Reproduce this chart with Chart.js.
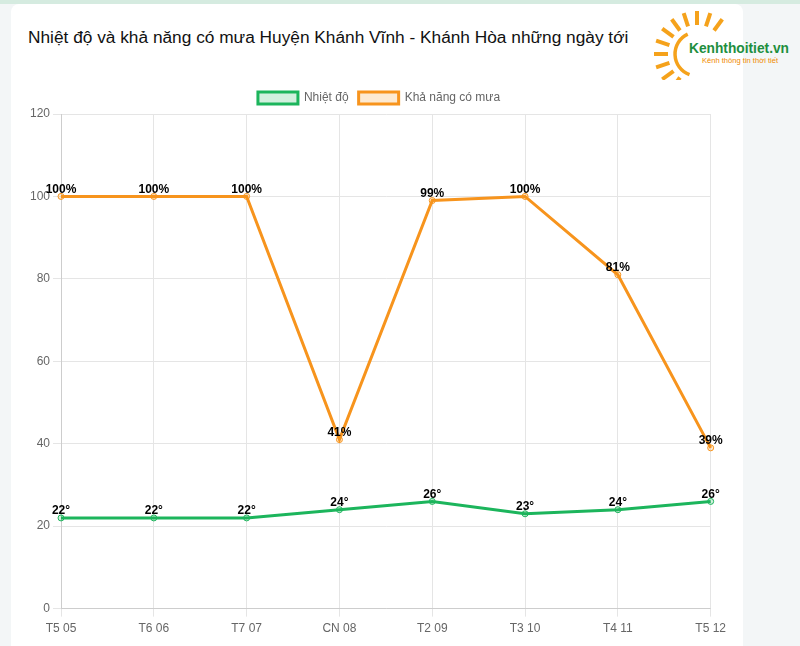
<!DOCTYPE html>
<html>
<head>
<meta charset="utf-8">
<script src="https://cdn.jsdelivr.net/npm/chart.js@4.4.1/dist/chart.umd.min.js"></script>
<style>
  html, body { margin: 0; padding: 0; }
  body { width: 800px; height: 646px; background: #f3f6f7; position: relative; overflow: hidden; font-family: "Liberation Sans", Arial, sans-serif; }
  .topbar { position: absolute; left: 0; top: 0; width: 800px; height: 4px; background: #d5ebe0; }
  .card { position: absolute; left: 11px; top: 4px; width: 732px; height: 660px; background: #fff; border-radius: 8px; }
  .title { position: absolute; left: 28px; top: 27px; font-size: 17.3px; color: #111; white-space: nowrap; }
  .logo { position: absolute; left: 645px; top: 0; width: 155px; height: 80px; }
  .chart-box { position: absolute; left: 27px; top: 82px; width: 704px; height: 559px; }
</style>
</head>
<body>
<div class="topbar"></div>
<div class="card"></div>
<div class="title">Nhiệt độ và khả năng có mưa Huyện Khánh Vĩnh - Khánh Hòa những ngày tới</div>
<svg class="logo" width="155" height="80" viewBox="0 0 155 80">
  <path d="M 42.7 34.1 A 22 22 0 0 0 44.5 74.7" stroke="#f5a21b" stroke-width="3.5" fill="none"/>
  <g id="sun" stroke="#f5a21b" fill="none" stroke-linecap="butt"></g>
  <text x="44" y="53" font-family="Liberation Sans, Arial" font-weight="bold" font-size="14" fill="#1e8f3e" textLength="100" lengthAdjust="spacingAndGlyphs">Kenhthoitiet.vn</text>
  <text x="57" y="63" font-family="Liberation Sans, Arial" font-size="7" fill="#ef8a00" textLength="76" lengthAdjust="spacingAndGlyphs">Kênh thông tin thời tiết</text>
</svg>
<div class="chart-box"><canvas id="chart"></canvas></div>
<script>
const days = ["T5 05", "T6 06", "T7 07", "CN 08", "T2 09", "T3 10", "T4 11", "T5 12"];
const temperature = [22, 22, 22, 24, 26, 23, 24, 26];
const rainChance = [100, 100, 100, 41, 99, 100, 81, 39];
const yTicks = [0, 20, 40, 60, 80, 100, 120];

const labelSuffix = ["°", "%"];

// logo sun rays on the left side
(function () {
  const g = document.getElementById("sun");
  const ns = "http://www.w3.org/2000/svg";
  const cx = 52, cy = 54;
  const pt = (deg, r) => {
    const a = deg * Math.PI / 180;
    return [cx - r * Math.sin(a), cy - r * Math.cos(a)];
  };
  [0, 18, 36, 54, 72, 90, 108, 126, 144, 162, -18, -36].forEach(deg => {
    const a = pt(deg, 29), b = pt(deg, 43);
    const line = document.createElementNS(ns, "line");
    line.setAttribute("x1", a[0]);
    line.setAttribute("y1", a[1]);
    line.setAttribute("x2", b[0]);
    line.setAttribute("y2", b[1]);
    line.setAttribute("stroke-width", "4");
    g.appendChild(line);
  });
})();

// draws the value above each point
const pointLabels = {
  id: "pointLabels",
  afterDatasetsDraw(chart) {
    const ctx = chart.ctx;
    ctx.save();
    ctx.font = "bold 12px 'Liberation Sans', Arial, sans-serif";
    ctx.fillStyle = "#000";
    ctx.textAlign = "center";
    ctx.textBaseline = "middle";
    chart.data.datasets.forEach((ds, i) => {
      chart.getDatasetMeta(i).data.forEach((pt, j) => {
        ctx.fillText(ds.data[j] + labelSuffix[i], pt.x, pt.y - 7);
      });
    });
    ctx.restore();
  }
};

Chart.defaults.font.family = "'Liberation Sans', Arial, sans-serif";
Chart.defaults.font.size = 12;
Chart.defaults.color = "#666";

new Chart(document.getElementById("chart"), {
  type: "line",
  data: {
    labels: days,
    datasets: [
      {
        label: "Nhiệt độ",
        data: temperature,
        borderColor: "#1cb55c",
        backgroundColor: "rgba(28,181,92,0.2)",
        borderWidth: 3,
        pointRadius: 3,
        pointBorderWidth: 1,
        tension: 0
      },
      {
        label: "Khả năng có mưa",
        data: rainChance,
        borderColor: "#f7941d",
        backgroundColor: "rgba(247,148,29,0.2)",
        borderWidth: 3,
        pointRadius: 3,
        pointBorderWidth: 1,
        tension: 0
      }
    ]
  },
  options: {
    responsive: true,
    maintainAspectRatio: false,
    animation: false,
    plugins: {
      legend: {
        labels: { boxWidth: 40, boxHeight: 12, color: "#666" }
      },
      tooltip: { enabled: false }
    },
    scales: {
      x: {
        grid: { color: "#e5e5e5" },
        ticks: { color: "#666", padding: 5 }
      },
      y: {
        min: 0,
        max: 120,
        afterBuildTicks: (axis) => { axis.ticks = yTicks.map(v => ({ value: v })); },
        grid: { color: "#e5e5e5" },
        ticks: { color: "#666" }
      }
    }
  },
  plugins: [pointLabels]
});
</script>
</body>
</html>
